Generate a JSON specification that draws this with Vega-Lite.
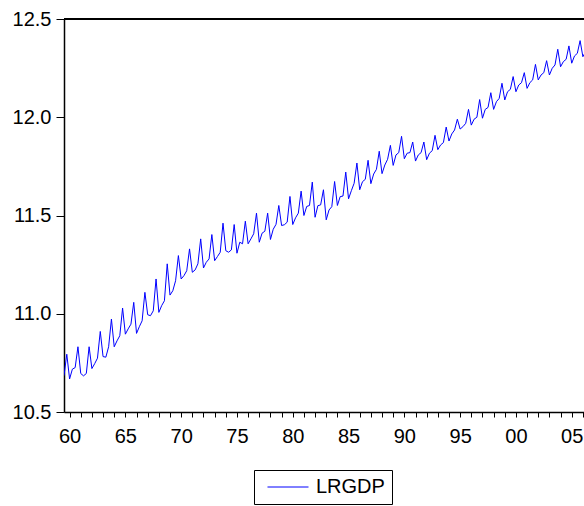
{
  "$schema": "https://vega.github.io/schema/vega-lite/v6.json",
  "autosize": {"type": "none"},
  "padding": {"left": 64, "top": 19, "right": 0, "bottom": 94},
  "width": 520,
  "height": 393,
  "background": "white",
  "config": {
    "font": "Liberation Sans",
    "view": {"stroke": null},
    "axis": {"grid": false, "domainColor": "black", "tickColor": "black", "labelColor": "black", "labelFont": "Liberation Sans", "labelFontSize": 20, "domainWidth": 1.5, "tickWidth": 1}
  },
  "data": {"values": [
    {"t": 1959.5, "LRGDP": 10.685}, {"t": 1959.75, "LRGDP": 10.794},
    {"t": 1960.0, "LRGDP": 10.668}, {"t": 1960.25, "LRGDP": 10.718}, {"t": 1960.5, "LRGDP": 10.726}, {"t": 1960.75, "LRGDP": 10.832},
    {"t": 1961.0, "LRGDP": 10.696}, {"t": 1961.25, "LRGDP": 10.684}, {"t": 1961.5, "LRGDP": 10.696}, {"t": 1961.75, "LRGDP": 10.832},
    {"t": 1962.0, "LRGDP": 10.721}, {"t": 1962.25, "LRGDP": 10.746}, {"t": 1962.5, "LRGDP": 10.774}, {"t": 1962.75, "LRGDP": 10.910},
    {"t": 1963.0, "LRGDP": 10.782}, {"t": 1963.25, "LRGDP": 10.779}, {"t": 1963.5, "LRGDP": 10.832}, {"t": 1963.75, "LRGDP": 10.973},
    {"t": 1964.0, "LRGDP": 10.832}, {"t": 1964.25, "LRGDP": 10.862}, {"t": 1964.5, "LRGDP": 10.888}, {"t": 1964.75, "LRGDP": 11.029},
    {"t": 1965.0, "LRGDP": 10.896}, {"t": 1965.25, "LRGDP": 10.923}, {"t": 1965.5, "LRGDP": 10.947}, {"t": 1965.75, "LRGDP": 11.058},
    {"t": 1966.0, "LRGDP": 10.900}, {"t": 1966.25, "LRGDP": 10.934}, {"t": 1966.5, "LRGDP": 10.964}, {"t": 1966.75, "LRGDP": 11.109},
    {"t": 1967.0, "LRGDP": 10.995}, {"t": 1967.25, "LRGDP": 10.990}, {"t": 1967.5, "LRGDP": 11.015}, {"t": 1967.75, "LRGDP": 11.177},
    {"t": 1968.0, "LRGDP": 11.007}, {"t": 1968.25, "LRGDP": 11.041}, {"t": 1968.5, "LRGDP": 11.066}, {"t": 1968.75, "LRGDP": 11.254},
    {"t": 1969.0, "LRGDP": 11.095}, {"t": 1969.25, "LRGDP": 11.117}, {"t": 1969.5, "LRGDP": 11.168}, {"t": 1969.75, "LRGDP": 11.296},
    {"t": 1970.0, "LRGDP": 11.177}, {"t": 1970.25, "LRGDP": 11.194}, {"t": 1970.5, "LRGDP": 11.219}, {"t": 1970.75, "LRGDP": 11.330},
    {"t": 1971.0, "LRGDP": 11.211}, {"t": 1971.25, "LRGDP": 11.223}, {"t": 1971.5, "LRGDP": 11.254}, {"t": 1971.75, "LRGDP": 11.381},
    {"t": 1972.0, "LRGDP": 11.233}, {"t": 1972.25, "LRGDP": 11.262}, {"t": 1972.5, "LRGDP": 11.279}, {"t": 1972.75, "LRGDP": 11.403},
    {"t": 1973.0, "LRGDP": 11.270}, {"t": 1973.25, "LRGDP": 11.291}, {"t": 1973.5, "LRGDP": 11.313}, {"t": 1973.75, "LRGDP": 11.461},
    {"t": 1974.0, "LRGDP": 11.321}, {"t": 1974.25, "LRGDP": 11.313}, {"t": 1974.5, "LRGDP": 11.325}, {"t": 1974.75, "LRGDP": 11.454},
    {"t": 1975.0, "LRGDP": 11.308}, {"t": 1975.25, "LRGDP": 11.364}, {"t": 1975.5, "LRGDP": 11.356}, {"t": 1975.75, "LRGDP": 11.471},
    {"t": 1976.0, "LRGDP": 11.356}, {"t": 1976.25, "LRGDP": 11.381}, {"t": 1976.5, "LRGDP": 11.407}, {"t": 1976.75, "LRGDP": 11.512},
    {"t": 1977.0, "LRGDP": 11.364}, {"t": 1977.25, "LRGDP": 11.410}, {"t": 1977.5, "LRGDP": 11.420}, {"t": 1977.75, "LRGDP": 11.512},
    {"t": 1978.0, "LRGDP": 11.378}, {"t": 1978.25, "LRGDP": 11.430}, {"t": 1978.5, "LRGDP": 11.455}, {"t": 1978.75, "LRGDP": 11.551},
    {"t": 1979.0, "LRGDP": 11.449}, {"t": 1979.25, "LRGDP": 11.453}, {"t": 1979.5, "LRGDP": 11.466}, {"t": 1979.75, "LRGDP": 11.597},
    {"t": 1980.0, "LRGDP": 11.454}, {"t": 1980.25, "LRGDP": 11.488}, {"t": 1980.5, "LRGDP": 11.512}, {"t": 1980.75, "LRGDP": 11.624},
    {"t": 1981.0, "LRGDP": 11.500}, {"t": 1981.25, "LRGDP": 11.546}, {"t": 1981.5, "LRGDP": 11.551}, {"t": 1981.75, "LRGDP": 11.670},
    {"t": 1982.0, "LRGDP": 11.491}, {"t": 1982.25, "LRGDP": 11.550}, {"t": 1982.5, "LRGDP": 11.554}, {"t": 1982.75, "LRGDP": 11.631},
    {"t": 1983.0, "LRGDP": 11.478}, {"t": 1983.25, "LRGDP": 11.528}, {"t": 1983.5, "LRGDP": 11.545}, {"t": 1983.75, "LRGDP": 11.673},
    {"t": 1984.0, "LRGDP": 11.551}, {"t": 1984.25, "LRGDP": 11.596}, {"t": 1984.5, "LRGDP": 11.599}, {"t": 1984.75, "LRGDP": 11.721},
    {"t": 1985.0, "LRGDP": 11.585}, {"t": 1985.25, "LRGDP": 11.626}, {"t": 1985.5, "LRGDP": 11.664}, {"t": 1985.75, "LRGDP": 11.767},
    {"t": 1986.0, "LRGDP": 11.631}, {"t": 1986.25, "LRGDP": 11.672}, {"t": 1986.5, "LRGDP": 11.684}, {"t": 1986.75, "LRGDP": 11.781},
    {"t": 1987.0, "LRGDP": 11.662}, {"t": 1987.25, "LRGDP": 11.711}, {"t": 1987.5, "LRGDP": 11.735}, {"t": 1987.75, "LRGDP": 11.827},
    {"t": 1988.0, "LRGDP": 11.713}, {"t": 1988.25, "LRGDP": 11.757}, {"t": 1988.5, "LRGDP": 11.786}, {"t": 1988.75, "LRGDP": 11.857},
    {"t": 1989.0, "LRGDP": 11.755}, {"t": 1989.25, "LRGDP": 11.808}, {"t": 1989.5, "LRGDP": 11.820}, {"t": 1989.75, "LRGDP": 11.903},
    {"t": 1990.0, "LRGDP": 11.789}, {"t": 1990.25, "LRGDP": 11.817}, {"t": 1990.5, "LRGDP": 11.820}, {"t": 1990.75, "LRGDP": 11.874},
    {"t": 1991.0, "LRGDP": 11.777}, {"t": 1991.25, "LRGDP": 11.808}, {"t": 1991.5, "LRGDP": 11.820}, {"t": 1991.75, "LRGDP": 11.874},
    {"t": 1992.0, "LRGDP": 11.784}, {"t": 1992.25, "LRGDP": 11.817}, {"t": 1992.5, "LRGDP": 11.830}, {"t": 1992.75, "LRGDP": 11.908},
    {"t": 1993.0, "LRGDP": 11.835}, {"t": 1993.25, "LRGDP": 11.859}, {"t": 1993.5, "LRGDP": 11.871}, {"t": 1993.75, "LRGDP": 11.950},
    {"t": 1994.0, "LRGDP": 11.879}, {"t": 1994.25, "LRGDP": 11.915}, {"t": 1994.5, "LRGDP": 11.935}, {"t": 1994.75, "LRGDP": 11.990},
    {"t": 1995.0, "LRGDP": 11.940}, {"t": 1995.25, "LRGDP": 11.952}, {"t": 1995.5, "LRGDP": 11.969}, {"t": 1995.75, "LRGDP": 12.040},
    {"t": 1996.0, "LRGDP": 11.960}, {"t": 1996.25, "LRGDP": 11.990}, {"t": 1996.5, "LRGDP": 12.000}, {"t": 1996.75, "LRGDP": 12.090},
    {"t": 1997.0, "LRGDP": 11.995}, {"t": 1997.25, "LRGDP": 12.040}, {"t": 1997.5, "LRGDP": 12.050}, {"t": 1997.75, "LRGDP": 12.125},
    {"t": 1998.0, "LRGDP": 12.040}, {"t": 1998.25, "LRGDP": 12.079}, {"t": 1998.5, "LRGDP": 12.096}, {"t": 1998.75, "LRGDP": 12.173},
    {"t": 1999.0, "LRGDP": 12.088}, {"t": 1999.25, "LRGDP": 12.130}, {"t": 1999.5, "LRGDP": 12.142}, {"t": 1999.75, "LRGDP": 12.207},
    {"t": 2000.0, "LRGDP": 12.130}, {"t": 2000.25, "LRGDP": 12.164}, {"t": 2000.5, "LRGDP": 12.176}, {"t": 2000.75, "LRGDP": 12.227},
    {"t": 2001.0, "LRGDP": 12.147}, {"t": 2001.25, "LRGDP": 12.176}, {"t": 2001.5, "LRGDP": 12.190}, {"t": 2001.75, "LRGDP": 12.269},
    {"t": 2002.0, "LRGDP": 12.190}, {"t": 2002.25, "LRGDP": 12.215}, {"t": 2002.5, "LRGDP": 12.227}, {"t": 2002.75, "LRGDP": 12.288},
    {"t": 2003.0, "LRGDP": 12.215}, {"t": 2003.25, "LRGDP": 12.249}, {"t": 2003.5, "LRGDP": 12.266}, {"t": 2003.75, "LRGDP": 12.346},
    {"t": 2004.0, "LRGDP": 12.257}, {"t": 2004.25, "LRGDP": 12.283}, {"t": 2004.5, "LRGDP": 12.295}, {"t": 2004.75, "LRGDP": 12.363},
    {"t": 2005.0, "LRGDP": 12.275}, {"t": 2005.25, "LRGDP": 12.312}, {"t": 2005.5, "LRGDP": 12.325}, {"t": 2005.75, "LRGDP": 12.390},
    {"t": 2006.0, "LRGDP": 12.308}, {"t": 2006.25, "LRGDP": 12.335}
  ]},
  "layer": [
    {
      "mark": {"type": "line", "strokeWidth": 1, "clip": true},
      "encoding": {
        "x": {"field": "t", "type": "quantitative",
          "scale": {"domain": [1959.5, 2006.1], "nice": false, "zero": false},
          "axis": {"title": null, "values": [1960,1961,1962,1963,1964,1965,1966,1967,1968,1969,1970,1971,1972,1973,1974,1975,1976,1977,1978,1979,1980,1981,1982,1983,1984,1985,1986,1987,1988,1989,1990,1991,1992,1993,1994,1995,1996,1997,1998,1999,2000,2001,2002,2003,2004,2005,2006],
            "labelExpr": "datum.value % 5 == 0 ? slice(toString(datum.value), 2) : ''",
            "labelOverlap": false, "labelFlush": false, "tickSize": 5, "labelPadding": 9}},
        "y": {"field": "LRGDP", "type": "quantitative",
          "scale": {"domain": [10.5, 12.5], "nice": false, "zero": false},
          "axis": {"title": null, "values": [10.5, 11.0, 11.5, 12.0, 12.5], "format": ".1f", "tickSize": 8, "labelPadding": 5, "labelOverlap": false, "labelFlush": false}},
        "color": {"datum": "LRGDP", "type": "nominal",
          "scale": {"range": ["#0000ff"]},
          "legend": {"orient": "none", "legendX": 190, "legendY": 451, "title": null,
            "symbolType": "M-3,0H3", "symbolSize": 187, "symbolStrokeWidth": 1,
            "labelFontSize": 20, "labelFont": "Liberation Sans", "labelColor": "black",
            "strokeColor": "black", "padding": 7, "labelOffset": 18, "symbolOffset": 17}}
      }
    },
    {
      "mark": {"type": "rule", "color": "black", "strokeWidth": 1.5},
      "encoding": {"y": {"datum": 12.5}}
    }
  ]
}
